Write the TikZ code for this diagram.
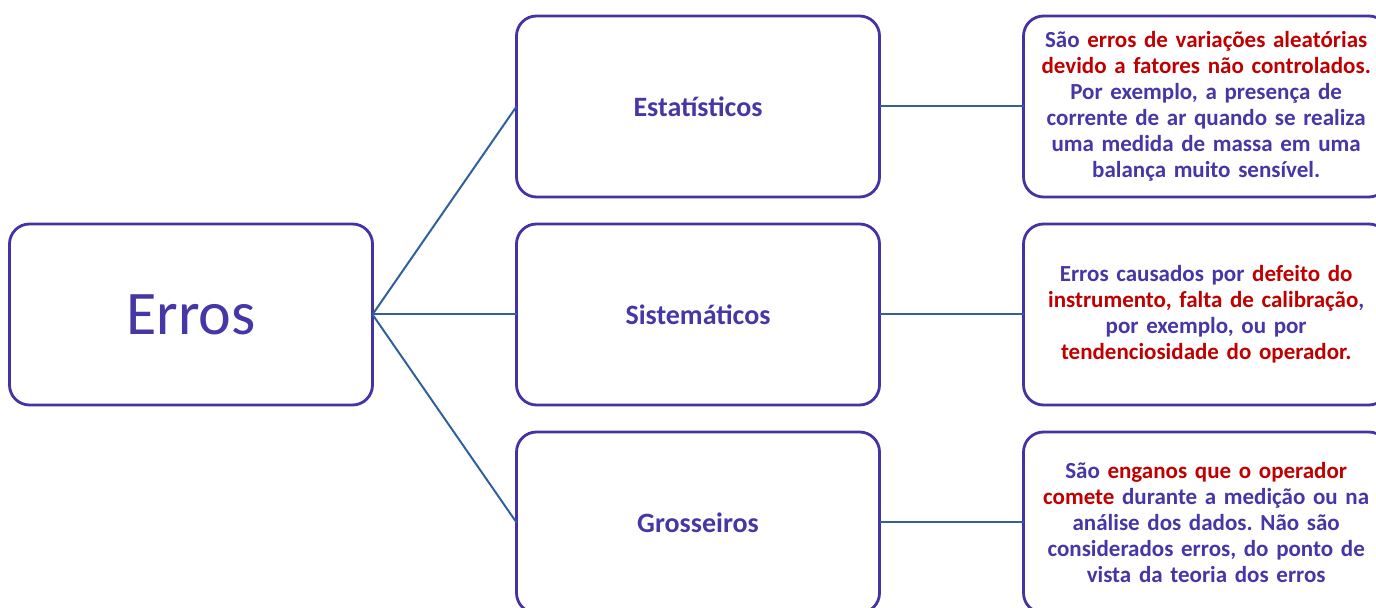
\documentclass[tikz,border=0pt]{standalone}
\usepackage{fontspec}
\setmainfont{Carlito}
\usetikzlibrary{positioning}
\definecolor{boxblue}{HTML}{4333A3}
\definecolor{txtblue}{HTML}{4637A7}
\definecolor{txtred}{HTML}{C00000}
\definecolor{linkblue}{HTML}{325F9E}
\frenchspacing

\begin{document}
\begin{tikzpicture}[x=0.5pt,y=-0.5pt,
node distance=72pt,
    B/.style = {rectangle, rounded corners=10pt, draw=boxblue,% every box
                line width=1.4pt, fill=white,
                minimum width=181.5pt, minimum height=90.5pt, outer sep=0pt},
    T/.style = {B, font=\fontsize{31}{34}\selectfont, text=txtblue},
    M/.style = {B, font=\bfseries\fontsize{14}{16}\selectfont, text=txtblue},
    D/.style = {B, font=\bfseries\fontsize{11.5}{13}\selectfont, text=txtblue,
                align=center, text width=176pt},
    L/.style = {linkblue, line width=1pt},
                        ]
\useasboundingbox (0,0) rectangle (1376,608);
\node[T] (erros) at (191,314.5) {Erros};
% middle column
\node[M, right=of erros] (sist) {Sistemáticos};
\node[M, above=13.5pt of sist] (estat) {Estatísticos};
\node[M, below=13.5pt of sist] (gross) {Grosseiros};
% right column
\node[D, right=of estat] (dEstat) {São \textcolor{txtred}{erros de variações aleatórias}\\
    \textcolor{txtred}{devido a fatores não controlados.}\\
    Por exemplo, a presença de\\
    corrente de ar quando se realiza\\
    uma medida de massa em uma\\
    balança muito sensível.};
\node[D, right=of sist] (dSist) {Erros causados por \textcolor{txtred}{defeito do}\\
    \textcolor{txtred}{instrumento, falta de calibração},\\
    por exemplo, ou por\\
    \textcolor{txtred}{tendenciosidade do operador.}};
\node[D, right=of gross] (dGross) {São \textcolor{txtred}{enganos que o operador}\\
    \textcolor{txtred}{comete} durante a medição ou na\\
    análise dos dados. Não são\\
    considerados erros, do ponto de\\
    vista da teoria dos erros};
\foreach \m/\d in {estat/dEstat,sist/dSist,gross/dGross}{
    \draw[L] (erros.east) -- (\m.west);
    \draw[L] (\m.east) -- (\d.west);
}
\end{tikzpicture}
\end{document}
